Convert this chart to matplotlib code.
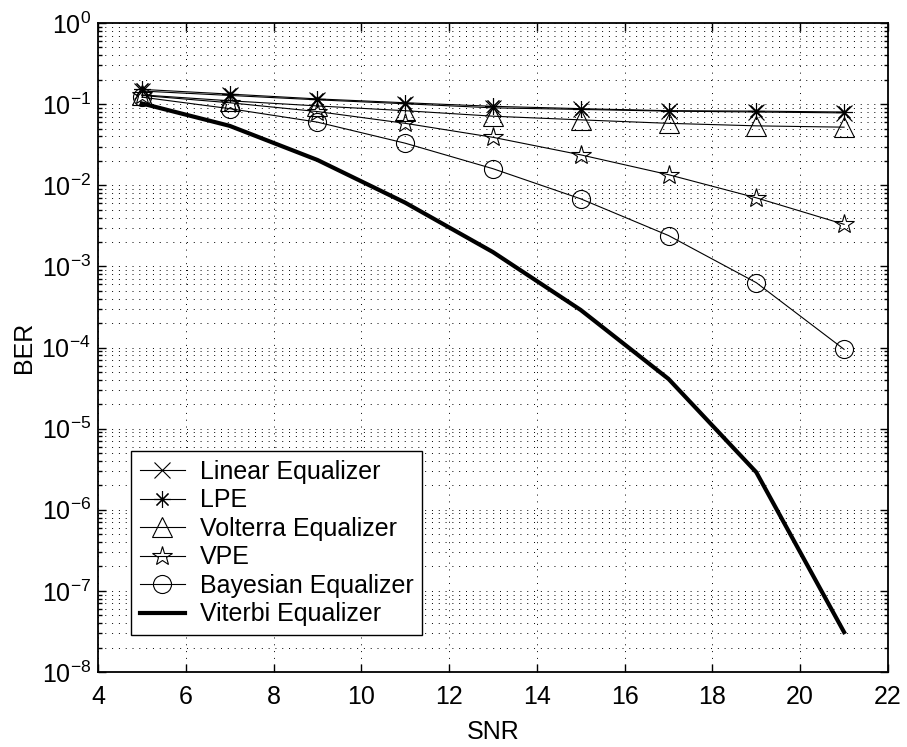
import matplotlib
matplotlib.use("Agg")
import matplotlib.pyplot as plt
import numpy as np
from matplotlib.ticker import LogLocator, NullFormatter

plt.rcParams['font.family'] = ['Liberation Sans', 'DejaVu Sans']
plt.rcParams['mathtext.fontset'] = 'custom'
plt.rcParams['mathtext.rm'] = 'Liberation Sans'
plt.rcParams['mathtext.it'] = 'Liberation Sans:italic'
plt.rcParams['mathtext.bf'] = 'Liberation Sans:bold'

snr = [5, 7, 9, 11, 13, 15, 17, 19, 21]
linear_eq = [0.145, 0.128, 0.113, 0.101, 0.090, 0.086, 0.082, 0.080, 0.078]
lpe = [0.152, 0.133, 0.116, 0.104, 0.094, 0.088, 0.083, 0.082, 0.080]
volterra = [0.130, 0.110, 0.095, 0.083, 0.071, 0.064, 0.058, 0.054, 0.052]
vpe = [0.128, 0.104, 0.081, 0.058, 0.039, 0.0237, 0.0135, 0.0070, 0.0033]
bayesian = [0.122, 0.088, 0.060, 0.033, 0.016, 0.0068, 0.0024, 0.00063, 0.000095]
viterbi = [0.102, 0.054, 0.0205, 0.0061, 0.0015, 0.00029, 0.000041, 0.0000029, 0.000000031]

labels = ["Linear Equalizer", "LPE", "Volterra Equalizer", "VPE",
          "Bayesian Equalizer", "Viterbi Equalizer"]

FS = 18

fig = plt.figure(figsize=(9.07, 7.47), dpi=100)
ax = fig.add_axes([0.108, 0.1004, 0.871, 0.8688])

lw = 0.8
ms = 12
ax.semilogy(snr, linear_eq, color='k', lw=lw, marker='x', ms=ms - 1, mew=0.8,
            label=labels[0])
ax.semilogy(snr, lpe, color='k', lw=lw, marker=(8, 2, 0), ms=ms, mew=0.8,
            label=labels[1])
ax.semilogy(snr, volterra, color='k', lw=lw, marker='^', ms=ms + 2, mew=0.8,
            mfc='none', label=labels[2])
ax.semilogy(snr, vpe, color='k', lw=lw, marker='*', ms=ms + 3, mew=0.8,
            mfc='none', label=labels[3])
ax.semilogy(snr, bayesian, color='k', lw=lw, marker='o', ms=ms + 1, mew=0.8,
            mfc='none', label=labels[4])
ax.semilogy(snr, viterbi, color='k', lw=3.0, label=labels[5])

ax.set_xlim(4, 22)
ax.set_ylim(1e-8, 1)
ax.set_xticks(np.arange(4, 23, 2))
ax.yaxis.set_major_locator(LogLocator(base=10, numticks=20))
ax.yaxis.set_minor_locator(LogLocator(base=10, subs=np.arange(2, 10), numticks=100))
ax.yaxis.set_minor_formatter(NullFormatter())

ax.grid(True, which='major', axis='both', color='k', linestyle=(0, (1, 6)), lw=0.7)
ax.grid(True, which='minor', axis='y', color='k', linestyle=(0, (1, 6)), lw=0.7)

ax.tick_params(which='both', direction='in', top=True, right=True, labelsize=FS)
ax.tick_params(which='major', length=6, width=1)
ax.tick_params(which='minor', length=3, width=1)
ax.tick_params(axis='x', pad=9)
ax.tick_params(axis='y', pad=5)
for s in ax.spines.values():
    s.set_linewidth(1.3)

ax.set_xlabel("SNR", fontsize=FS, labelpad=8)
ax.set_ylabel("BER", fontsize=FS, labelpad=4)

leg = ax.legend(loc='lower left', bbox_to_anchor=(0.042, 0.057), fontsize=FS,
                frameon=True, fancybox=False, framealpha=1, edgecolor='k',
                borderaxespad=0, handlelength=1.8, labelspacing=0.18,
                borderpad=0.35, handletextpad=0.6)
leg.get_frame().set_linewidth(1.0)

fig.savefig("out.png", dpi=100)
